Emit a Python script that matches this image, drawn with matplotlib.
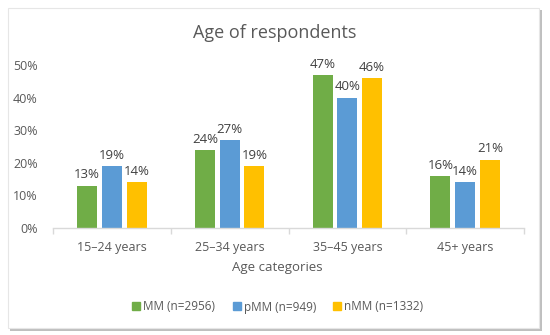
import numpy as np
import matplotlib
matplotlib.use('Agg')
import matplotlib.pyplot as plt
from matplotlib.patches import Rectangle
from matplotlib.lines import Line2D

# ---------- DADOS ----------
categories = ['15–24 years', '25–34 years', '35–45 years', '45+ years']
series_names = ['MM (n=2956)', 'pMM (n=949)', 'nMM (n=1332)']
mm = [13, 24, 47, 16]
pmm = [19, 27, 40, 14]
nmm = [14, 19, 46, 21]
colors = ['#70AD47', '#5B9BD5', '#FFC000']
yticks = [0, 10, 20, 30, 40, 50]

plt.rcParams['font.family'] = ['Open Sans', 'DejaVu Sans']
text_color = '#595959'

fig = plt.figure(figsize=(5.5, 3.35), dpi=100)

# moldura com sombra (estilo Excel)
W, H = 550, 335
fig.patches.append(Rectangle((10 / W, 1 - 331 / H), 532 / W, 321 / H,
                             transform=fig.transFigure, facecolor='#BFBFBF',
                             edgecolor='none', zorder=0))
fig.patches.append(Rectangle((8 / W, 1 - 328 / H), 531 / W, 320 / H,
                             transform=fig.transFigure, facecolor='white',
                             edgecolor='#E6E6E6', linewidth=0.8, zorder=0.5))

ax = fig.add_axes([53 / W, 1 - 228 / H, 471 / W, 163 / H])
ax.set_facecolor('none')
ax.set_zorder(2)

x = np.arange(len(categories))
width = 0.17
step = 0.21
for i, (vals, name) in enumerate(zip([mm, pmm, nmm], series_names)):
    pos = x + (i - 1) * step
    bars = ax.bar(pos, vals, width=width, color=colors[i], label=name, zorder=2)
    for b, v in zip(bars, vals):
        ax.text(b.get_x() + b.get_width() / 2, v + 1.3, f'{v}%',
                ha='center', va='bottom', fontsize=9.5, color='#404040',
                clip_on=False)

ax.set_xlim(-0.5, len(categories) - 0.5)
ax.set_ylim(0, 50)
ax.set_yticks(yticks)
ax.set_yticklabels([f'{t}%' for t in yticks])
ax.set_xticks(x)
ax.set_xticklabels(categories)
ax.set_xticks(np.arange(-0.5, len(categories)), minor=True)

for s in ['top', 'right', 'left']:
    ax.spines[s].set_visible(False)
ax.spines['bottom'].set_color('#D9D9D9')
ax.spines['bottom'].set_linewidth(1)

ax.tick_params(axis='y', length=0, pad=11, labelsize=9, labelcolor=text_color)
ax.tick_params(axis='x', which='major', length=0, pad=9, labelsize=9, labelcolor=text_color)
ax.tick_params(axis='x', which='minor', length=4, color='#D9D9D9', width=1)

fig.text(0.5, 1 - 33 / H, 'Age of respondents', ha='center', va='center',
         fontsize=13, color=text_color, zorder=3)
fig.text(277 / W, 1 - 268 / H, 'Age categories', ha='center', va='center',
         fontsize=9.5, color=text_color, zorder=3)

handles = [Line2D([], [], marker='s', linestyle='none', markersize=5.5,
                  color=c) for c in colors]
leg = fig.legend(handles, series_names, loc='center', bbox_to_anchor=(277 / W, 1 - 307 / H),
                 ncol=3, frameon=False, fontsize=8.5, labelcolor=text_color,
                 handletextpad=0.1, columnspacing=1.3, handlelength=1.0)
leg.set_zorder(3)

fig.savefig('out.png', dpi=100)
